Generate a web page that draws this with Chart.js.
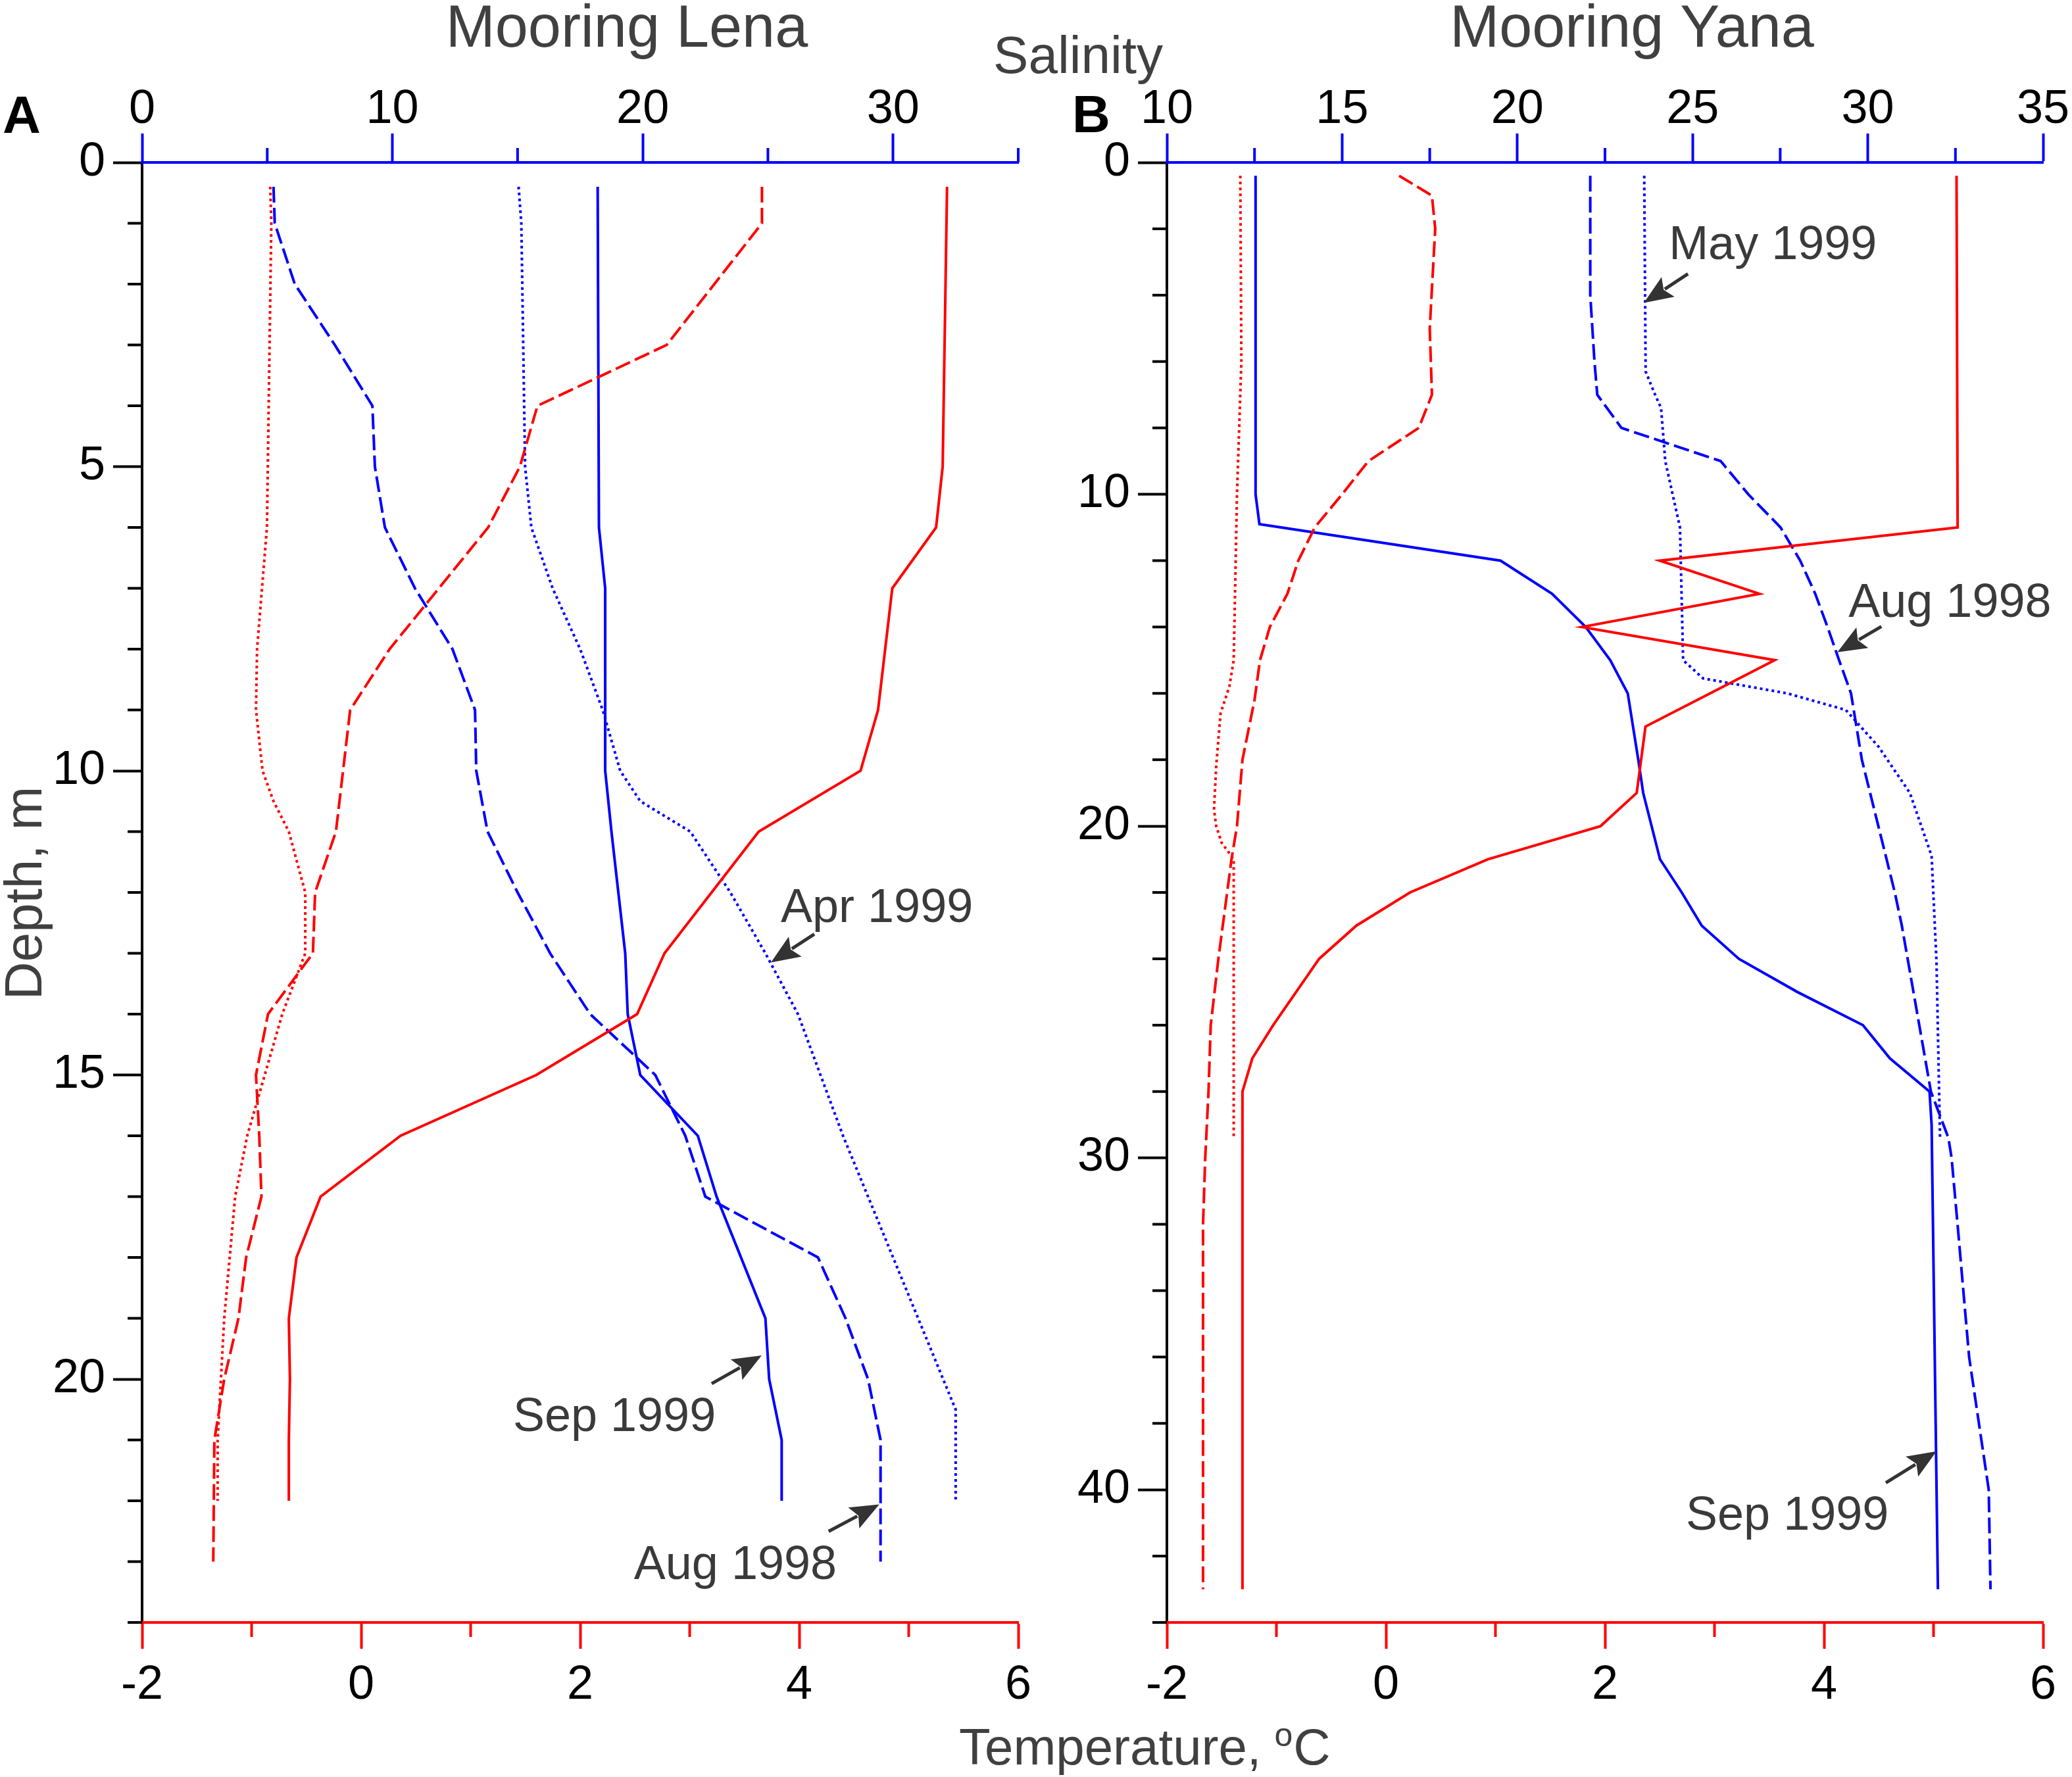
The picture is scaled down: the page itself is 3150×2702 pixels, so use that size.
<!DOCTYPE html>
<html>
<head>
<meta charset="utf-8">
<script src="https://cdn.jsdelivr.net/npm/chart.js@4/dist/chart.umd.min.js"></script>
<style>
html,body{margin:0;padding:0;background:#fff;}
#wrap{position:relative;width:3150px;height:2702px;background:#fff;overflow:hidden;}
#wrap canvas{position:absolute;left:0;top:0;}
</style>
</head>
<body>
<div id="wrap">
<canvas id="cA" width="3150" height="2702"></canvas>
<canvas id="cB" width="3150" height="2702"></canvas>
</div>
<script>
// ---------------- DATA: Mooring Lena (panel A) ----------------
// Temperature (°C) profiles
const lenaTempSepDepth = [0.4, 5, 6, 7, 9, 10, 11, 12, 13, 14, 15, 16, 17, 18, 19, 20, 21, 22];
const lenaTempSep      = [5.35, 5.31, 5.25, 4.85, 4.72, 4.56, 3.63, 3.2, 2.77, 2.52, 1.60, 0.36, -0.37, -0.59, -0.66, -0.65, -0.66, -0.66];
const lenaTempAugDepth = [0.4, 1, 3, 4, 5, 6, 8, 9, 11, 12, 13, 14, 15, 16, 17, 18, 19, 20, 21, 23];
const lenaTempAug      = [3.66, 3.66, 2.79, 1.61, 1.45, 1.16, 0.26, -0.10, -0.23, -0.42, -0.44, -0.85, -0.96, -0.93, -0.91, -1.05, -1.12, -1.25, -1.34, -1.35];
const lenaTempAprDepth = [0.4, 1, 6, 8, 9, 10, 10.5, 11, 12, 13, 14, 15, 16, 17, 18, 19, 20, 21, 22];
const lenaTempApr      = [-0.83, -0.82, -0.86, -0.95, -0.96, -0.90, -0.80, -0.66, -0.51, -0.51, -0.72, -0.88, -1.04, -1.15, -1.20, -1.25, -1.28, -1.31, -1.31];
// Salinity profiles
const lenaSalSepDepth = [0.4, 6, 7, 10, 11, 13, 14, 15, 16, 17, 19, 20, 21, 22];
const lenaSalSep      = [18.2, 18.25, 18.5, 18.5, 18.75, 19.3, 19.4, 19.9, 22.2, 22.95, 24.9, 25.05, 25.55, 25.55];
const lenaSalAugDepth = [0.4, 1, 2, 3, 4, 5, 6, 7, 8, 9, 10, 11, 12, 13, 14, 15, 16, 17, 18, 19, 20, 21, 23];
const lenaSalAug      = [5.25, 5.3, 6.1, 7.7, 9.2, 9.3, 9.7, 10.9, 12.4, 13.3, 13.35, 13.8, 15.0, 16.3, 17.9, 20.5, 21.7, 22.5, 27.0, 28.1, 29.0, 29.5, 29.5];
const lenaSalAprDepth = [0.4, 1, 5, 6, 7, 8, 9, 10, 10.5, 11, 12, 13, 14, 15, 16, 17, 18, 19, 20, 20.5, 22];
const lenaSalApr      = [15.04, 15.15, 15.3, 15.55, 16.4, 17.5, 18.4, 19.1, 19.9, 21.9, 23.5, 24.9, 26.2, 27.1, 28.0, 29.0, 30.0, 31.0, 32.0, 32.5, 32.5];

// ---------------- DATA: Mooring Yana (panel B) ----------------
const yanaTempSepDepth = [0.4, 11, 12, 13, 14, 15, 17, 19, 20, 21, 22, 23, 24, 26, 27, 28, 43];
const yanaTempSep      = [5.21, 5.22, 2.50, 3.41, 1.79, 3.55, 2.37, 2.29, 1.96, 0.93, 0.22, -0.27, -0.61, -1.03, -1.22, -1.31, -1.31];
const yanaTempAugDepth = [0.4, 1, 2, 5, 7, 8, 9, 10, 11, 12, 13, 14, 15, 16.2, 18, 20, 21, 22, 24, 26, 28, 30, 32, 43];
const yanaTempAug      = [0.12, 0.42, 0.45, 0.40, 0.42, 0.30, -0.16, -0.40, -0.65, -0.80, -0.90, -1.06, -1.15, -1.20, -1.31, -1.36, -1.41, -1.45, -1.53, -1.60, -1.62, -1.65, -1.67, -1.67];
const yanaTempMayDepth = [0.4, 6, 10, 15, 15.8, 16.6, 18.2, 19.5, 20, 20.5, 21, 29.4];
const yanaTempMay      = [-1.33, -1.32, -1.36, -1.39, -1.43, -1.51, -1.55, -1.57, -1.55, -1.50, -1.39, -1.39];
const yanaSalSepDepth = [0.4, 10, 10.9, 12, 13, 14, 15, 16, 17, 18, 19, 21, 22, 23, 24, 25, 26, 27, 28, 29, 43];
const yanaSalSep      = [12.53, 12.53, 12.64, 19.52, 20.99, 21.95, 22.65, 23.15, 23.3, 23.45, 23.59, 24.07, 24.69, 25.26, 26.32, 27.99, 29.86, 30.63, 31.76, 31.82, 32.0];
const yanaSalAugDepth = [0.4, 4, 6, 7, 8, 9, 10, 11, 12, 13, 14, 15, 16, 18, 22, 23, 28, 29.4, 30, 32, 36, 40, 43];
const yanaSalAug      = [22.08, 22.08, 22.2, 22.28, 22.97, 25.8, 26.59, 27.51, 28.07, 28.5, 28.85, 29.18, 29.52, 29.83, 30.77, 30.97, 31.8, 32.3, 32.39, 32.56, 32.89, 33.45, 33.5];
const yanaSalMayDepth = [0.4, 6.3, 7, 7.4, 9, 11, 15, 15.55, 16, 16.5, 17.6, 19, 20.9, 24.1, 29.4];
const yanaSalMay      = [23.62, 23.66, 23.93, 24.1, 24.22, 24.64, 24.73, 25.3, 27.7, 29.37, 30.3, 31.2, 31.82, 31.96, 32.06];

// ---------------- Text ----------------
const titleLena = 'Mooring Lena';
const titleYana = 'Mooring Yana';
const salinityTitle = 'Salinity';
const depthTitle = 'Depth, m';
const tempTitle = ['Temperature,', 'o', 'C'];
const annLenaText = ['Apr 1999', 'Sep 1999', 'Aug 1998'];
const annYanaText = ['May 1999', 'Aug 1998', 'Sep 1999'];

// ---------------- Styling / helpers ----------------
const FONT = '"Liberation Sans", Arial, Helvetica, sans-serif';
const RED = '#ff0000', BLUE = '#0000ff', TXT = '#404040';
const SOLID = [], DASHED = [24, 8], DOTTED = [4, 5];

function isMajor(v, every) { const r = v / every; return Math.abs(r - Math.round(r)) < 1e-6; }
function ticksFrom(min, max, step) { const a = []; for (let v = min; v <= max + 1e-9; v += step) a.push(Math.round(v * 1000) / 1000); return a; }

function series(label, axis, depths, values, color, dash) {
  return {
    label, xAxisID: axis, yAxisID: 'depth',
    data: depths.map((d, i) => ({ x: values[i], y: d })),
    showLine: true, borderColor: color, backgroundColor: color, borderWidth: 4,
    borderDash: dash, borderCapStyle: 'butt', borderJoinStyle: 'miter',
    pointRadius: 0, pointHoverRadius: 0, fill: false, tension: 0, clip: false
  };
}

function axisCfg(o) {
  return {
    type: 'linear', position: o.position, min: o.min, max: o.max, reverse: !!o.reverse,
    afterFit: s => { if (o.position === 'left') s.width = o.size; else s.height = o.size; },
    afterBuildTicks: s => { s.ticks = ticksFrom(o.min, o.max, o.step).map(v => ({ value: v })); },
    grid: {
      display: true, drawOnChartArea: false, drawTicks: true, tickLength: o.tickLen, tickWidth: 4,
      tickColor: c => (c.tick && isMajor(c.tick.value, o.major)) ? o.color : 'rgba(0,0,0,0)'
    },
    border: { display: true, color: o.color, width: 4 },
    ticks: {
      autoSkip: false, maxRotation: 0, minRotation: 0, padding: o.pad, color: '#000',
      font: { family: FONT, size: 72, lineHeight: 1 },
      callback: v => isMajor(v, o.major) ? String(v) : ''
    }
  };
}

function drawArrow(ctx, x1, y1, x2, y2) {
  const a = Math.atan2(y2 - y1, x2 - x1), hl = 44, hw = 18;
  const bx = x2 - hl * Math.cos(a), by = y2 - hl * Math.sin(a);
  ctx.strokeStyle = '#333'; ctx.fillStyle = '#333'; ctx.lineWidth = 5;
  ctx.beginPath(); ctx.moveTo(x1, y1); ctx.lineTo(bx + 6 * Math.cos(a), by + 6 * Math.sin(a)); ctx.stroke();
  ctx.beginPath(); ctx.moveTo(x2, y2);
  ctx.lineTo(bx + hw * Math.sin(a), by - hw * Math.cos(a));
  ctx.lineTo(bx + 8 * Math.cos(a), by + 8 * Math.sin(a));
  ctx.lineTo(bx - hw * Math.sin(a), by + hw * Math.cos(a));
  ctx.closePath(); ctx.fill();
}

const decoPlugin = {
  id: 'deco',
  afterDraw(chart, args, o) {
    const ctx = chart.ctx;
    ctx.save();
    ctx.lineCap = 'butt';
    // minor ticks
    (o.minor || []).forEach(m => {
      const s = chart.scales[m.axis];
      ctx.strokeStyle = m.color; ctx.lineWidth = 4;
      s.ticks.forEach(t => {
        if (isMajor(t.value, m.major)) return;
        const p = s.getPixelForValue(t.value);
        ctx.beginPath();
        if (s.position === 'left') { ctx.moveTo(s.right - m.len, p); ctx.lineTo(s.right, p); }
        else if (s.position === 'top') { ctx.moveTo(p, s.bottom - m.len); ctx.lineTo(p, s.bottom); }
        else { ctx.moveTo(p, s.top); ctx.lineTo(p, s.top + m.len); }
        ctx.stroke();
      });
    });
    // annotations with arrows
    (o.ann || []).forEach(a => {
      const tx = chart.scales[a.axis].getPixelForValue(a.x);
      const ty = chart.scales.depth.getPixelForValue(a.y);
      drawArrow(ctx, tx + a.tail[0], ty + a.tail[1], tx, ty);
      ctx.fillStyle = '#3a3a3a';
      ctx.font = `72px ${FONT}`;
      ctx.textAlign = 'left'; ctx.textBaseline = 'alphabetic';
      ctx.fillText(a.text, tx + a.label[0], ty + a.label[1]);
    });
    // free texts
    (o.texts || []).forEach(t => {
      ctx.save();
      ctx.fillStyle = t.color || TXT;
      ctx.font = `${t.bold ? 'bold ' : ''}${t.size}px ${FONT}`;
      ctx.textAlign = t.align || 'left'; ctx.textBaseline = 'alphabetic';
      ctx.translate(t.x, t.y);
      if (t.rot) ctx.rotate(t.rot);
      ctx.fillText(t.text, 0, 0);
      ctx.restore();
    });
    if (o.tempTitle) {
      const tt = o.tempTitle;
      ctx.fillStyle = TXT; ctx.textAlign = 'left'; ctx.textBaseline = 'alphabetic';
      ctx.font = `78px ${FONT}`;
      ctx.fillText(tempTitle[0], tt.x, tt.y);
      const w = ctx.measureText(tempTitle[0]).width;
      ctx.font = `50px ${FONT}`;
      const ox = tt.x + w + 20;
      ctx.fillText(tempTitle[1], ox, tt.y - 28);
      const wo = ctx.measureText(tempTitle[1]).width;
      ctx.font = `78px ${FONT}`;
      ctx.fillText(tempTitle[2], ox + wo + 1, tt.y);
    }
    ctx.restore();
  }
};

function makePanel(id, p) {
  return new Chart(document.getElementById(id), {
    type: 'scatter',
    data: { datasets: p.datasets },
    plugins: [decoPlugin],
    options: {
      responsive: false, maintainAspectRatio: false, devicePixelRatio: 1, animation: false,
      events: [],
      layout: { padding: { left: p.padL, right: p.padR, top: 0, bottom: 35 } },
      plugins: { legend: { display: false }, tooltip: { enabled: false }, deco: p.deco },
      scales: {
        depth: axisCfg({ position: 'left', min: 0, max: p.depthMax, step: p.depthStep, major: p.depthMajor, reverse: true,
                         color: '#000', size: 216, tickLen: 44, pad: 12 }),
        sal: axisCfg({ position: 'top', min: p.salMin, max: 35, step: p.salStep, major: p.salMajor,
                       color: BLUE, size: 247, tickLen: 44, pad: 0 }),
        temp: axisCfg({ position: 'bottom', min: -2, max: 6, step: 1, major: 2,
                        color: RED, size: 200, tickLen: 40, pad: 20 })
      }
    }
  });
}

// Panel A: Mooring Lena
makePanel('cA', {
  padL: 0, padR: 3150 - 1548,
  depthMax: 24, depthStep: 1, depthMajor: 5,
  salMin: 0, salStep: 5, salMajor: 10,
  datasets: [
    series('Temp Aug 1998', 'temp', lenaTempAugDepth, lenaTempAug, RED, DASHED),
    series('Temp Apr 1999', 'temp', lenaTempAprDepth, lenaTempApr, RED, DOTTED),
    series('Temp Sep 1999', 'temp', lenaTempSepDepth, lenaTempSep, RED, SOLID),
    series('Sal Aug 1998', 'sal', lenaSalAugDepth, lenaSalAug, BLUE, DASHED),
    series('Sal Apr 1999', 'sal', lenaSalAprDepth, lenaSalApr, BLUE, DOTTED),
    series('Sal Sep 1999', 'sal', lenaSalSepDepth, lenaSalSep, BLUE, SOLID)
  ],
  deco: {
    minor: [
      { axis: 'depth', major: 5, len: 22, color: '#000' },
      { axis: 'sal', major: 10, len: 22, color: BLUE },
      { axis: 'temp', major: 2, len: 22, color: RED }
    ],
    ann: [
      { text: annLenaText[0], axis: 'sal', x: 25.12, y: 13.15, tail: [66, -43], label: [15, -61] },
      { text: annLenaText[1], axis: 'sal', x: 24.75, y: 19.61, tail: [-76, 43], label: [-378, 115] },
      { text: annLenaText[2], axis: 'sal', x: 29.45, y: 22.06, tail: [-77, 41], label: [-373, 113] }
    ],
    texts: [
      { text: titleLena, x: 953, y: 71, size: 90, align: 'center' },
      { text: titleYana, x: 2481, y: 71, size: 90, align: 'center' },
      { text: salinityTitle, x: 1639, y: 111, size: 80, align: 'center' },
      { text: depthTitle, x: 63, y: 1358, size: 80, align: 'center', rot: -Math.PI / 2 },
      { text: 'A', x: 4, y: 202, size: 80, bold: true, color: '#000' },
      { text: 'B', x: 1630, y: 201, size: 80, bold: true, color: '#000' }
    ],
    tempTitle: { x: 1458, y: 2683 }
  }
});

// Panel B: Mooring Yana
makePanel('cB', {
  padL: 1774 - 216, padR: 3150 - 3106,
  depthMax: 44, depthStep: 2, depthMajor: 10,
  salMin: 10, salStep: 2.5, salMajor: 5,
  datasets: [
    series('Temp Aug 1998', 'temp', yanaTempAugDepth, yanaTempAug, RED, DASHED),
    series('Temp May 1999', 'temp', yanaTempMayDepth, yanaTempMay, RED, DOTTED),
    series('Temp Sep 1999', 'temp', yanaTempSepDepth, yanaTempSep, RED, SOLID),
    series('Sal Aug 1998', 'sal', yanaSalAugDepth, yanaSalAug, BLUE, DASHED),
    series('Sal May 1999', 'sal', yanaSalMayDepth, yanaSalMay, BLUE, DOTTED),
    series('Sal Sep 1999', 'sal', yanaSalSepDepth, yanaSalSep, BLUE, SOLID)
  ],
  deco: {
    minor: [
      { axis: 'depth', major: 10, len: 22, color: '#000' },
      { axis: 'sal', major: 5, len: 22, color: BLUE },
      { axis: 'temp', major: 2, len: 22, color: RED }
    ],
    ann: [
      { text: annYanaText[0], axis: 'sal', x: 23.61, y: 4.23, tail: [67, -44], label: [38, -66] },
      { text: annYanaText[1], axis: 'sal', x: 29.13, y: 14.76, tail: [67, -39], label: [17, -54] },
      { text: annYanaText[2], axis: 'sal', x: 31.96, y: 38.84, tail: [-77, 48], label: [-381, 119] }
    ],
    texts: []
  }
});
</script>
</body>
</html>
